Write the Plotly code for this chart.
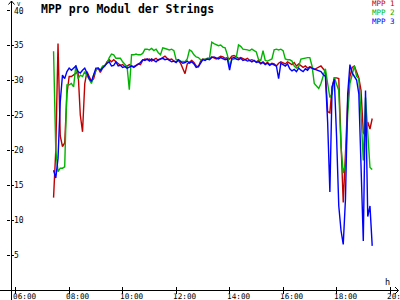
import plotly.graph_objects as go

# ---- data (5-minute samples from 07:25 to 19:20) ----
start_minute = 7 * 60 + 25
n_points = 144
times = [f"{(start_minute + 5 * i) // 60:02d}:{(start_minute + 5 * i) % 60:02d}" for i in range(n_points)]

mpp1 = [
    13.2, 20.0, 35.2, 22.0, 20.5, 21.0, 28.0, 30.5, 30.5, 30.7, 30.9, 31.2, 25.0, 22.6, 29.5, 31.2,
    30.5, 29.8, 30.2, 31.4, 31.7, 31.1, 31.7, 32.0, 32.6, 32.9, 32.6, 32.9, 32.6,
    32.3, 32.1, 32.2, 31.9, 32.0, 32.2, 32.0, 31.9, 32.1, 32.3, 32.2, 32.8, 33.0, 32.9, 33.0, 32.7,
    32.9, 33.1, 32.8, 33.0, 33.2, 33.4, 33.1, 32.9, 33.0, 32.7, 32.6, 32.8, 32.4, 31.7, 30.9, 32.3,
    32.6, 32.8, 32.5, 32.0, 31.9, 32.7, 33.0, 32.9, 33.1, 33.0, 33.3, 33.2, 33.0, 33.2, 33.4, 33.3,
    33.1, 33.2, 33.0, 33.4, 33.5, 33.3, 33.1, 33.2, 33.0, 32.9, 33.1, 32.8, 32.9, 32.7, 32.6, 32.8,
    32.4, 32.6, 32.3, 32.5, 32.2, 32.4, 32.3, 32.0, 32.4, 32.6, 32.5, 32.3, 32.6, 32.4, 32.2, 32.5,
    32.0, 32.3, 32.0, 31.8, 32.0, 31.7, 31.9,
    31.8, 31.5, 31.7, 31.8, 32.0, 31.6, 31.2, 25.5, 25.3, 29.0, 30.3, 30.3, 30.2, 21.0, 12.5, 19.5,
    27.0, 30.5, 31.8, 32.0, 31.0, 30.3, 28.5, 22.5, 22.0, 24.0, 23.0, 24.5,
]

mpp2 = [
    34.1, 20.0, 16.9, 17.4, 17.4, 17.6, 29.3, 29.3, 29.5, 29.0, 32.1, 30.2, 30.7, 30.5, 31.2, 30.7,
    30.2, 29.5, 30.7, 31.4, 31.7, 31.4, 32.0, 32.1, 32.4, 33.2, 33.7, 33.6, 33.1,
    33.1, 33.1, 32.6, 32.3, 31.9, 28.6, 33.6, 33.6, 33.7, 33.6, 33.6, 33.8, 34.4, 34.4, 34.3, 34.5,
    34.2, 34.4, 33.9, 33.6, 34.6, 34.5, 34.4, 34.3, 34.4, 34.2, 32.9, 32.9, 32.7, 32.6, 32.6, 33.0,
    34.3, 34.1, 33.6, 33.3, 33.2, 32.9, 32.9, 33.0, 33.0, 33.2, 35.4, 35.2, 35.0, 34.9, 35.0, 34.7,
    34.6, 33.6, 31.9, 32.9, 33.0, 33.2, 35.0, 34.8, 34.4, 34.4, 34.3, 34.2, 34.4, 34.2, 34.0, 32.9,
    32.8, 34.2, 32.8, 32.7, 32.8, 33.0, 34.3, 34.4, 34.3, 34.4, 34.2, 33.0, 32.9, 32.9, 32.7, 32.0,
    31.7, 31.9, 33.0, 33.1, 33.1, 33.2, 33.2,
    32.0, 29.5, 29.2, 28.8, 29.5, 30.6, 31.6, 29.5, 27.5, 28.0, 30.4, 29.4, 28.5, 20.5, 16.7, 18.0,
    25.0, 29.5, 31.0, 32.0, 30.5, 30.2, 25.0, 18.5, 27.5, 22.0, 17.5, 17.2,
]

mpp3 = [
    17.1, 16.0, 18.8, 26.9, 30.7, 30.2, 31.2, 31.7, 31.4, 31.7, 32.0, 31.2, 31.0, 31.4, 31.7, 31.0,
    30.2, 29.8, 30.7, 31.7, 31.7, 31.4, 31.7, 32.1, 32.4, 32.6, 32.0, 32.1, 32.6,
    32.0, 32.1, 31.8, 31.9, 31.7, 31.9, 32.0, 31.8, 32.0, 32.2, 32.5, 32.9, 32.8, 33.0, 32.7, 33.0,
    32.8, 32.6, 32.9, 33.0, 33.1, 32.9, 33.0, 32.8, 32.6, 32.7, 32.5, 32.9, 32.6, 32.4, 32.5, 32.7,
    32.4, 32.6, 32.3, 31.8, 31.9, 32.5, 32.9, 32.8, 33.0, 32.9, 33.2, 33.3, 33.1, 33.0, 33.2, 33.1,
    32.9, 33.0, 31.4, 33.1, 33.2, 33.0, 32.9, 33.1, 32.8, 32.9, 32.7, 32.8, 32.6, 32.8, 32.5, 32.6,
    32.3, 32.5, 32.2, 32.4, 32.1, 32.3, 32.2, 32.0, 30.2, 32.4, 32.2, 32.0, 32.3, 31.6, 31.3, 31.5,
    31.2, 31.7, 31.4, 31.2, 31.6, 31.4, 31.8,
    31.7, 31.5, 31.5, 31.4, 31.2, 30.8, 30.5, 24.0, 14.0, 29.0, 30.1, 22.0, 12.0, 8.5, 6.5, 13.0,
    28.0, 32.2, 31.0, 30.5, 30.0, 28.0, 16.0, 7.0, 28.5, 10.5, 12.0, 6.3,
]

series_names = ["MPP 1", "MPP 2", "MPP 3"]
series_colors = ["#c00000", "#00b400", "#0000ff"]

x_tick_hours = [6, 8, 10, 12, 14, 16, 18, 20]
x_tick_labels = ["06:00", "08:00", "10:00", "12:00", "14:00", "16:00", "18:00", "20:00"]
y_ticks = [5, 10, 15, 20, 25, 30, 35, 40]

title_text = "MPP pro Modul der Strings"

# ---- figure ----
hours = [int(t[:2]) + int(t[3:]) / 60 for t in times]
W, H = 400, 300
FONT = "DejaVu Sans Mono"

fig = go.Figure()
for name, vals, col in zip(series_names, [mpp1, mpp2, mpp3], series_colors):
    fig.add_trace(go.Scatter(x=hours, y=vals, mode="lines", name=name,
                             line=dict(color=col, width=1.4), showlegend=False))


def px(x):
    return x / W


def py(y):
    return 1 - y / H


common_x = dict(range=[5.825, 20.298], domain=[px(11), px(398)], showgrid=False, zeroline=False,
                tickvals=x_tick_hours, tickcolor="black", tickwidth=1, ticklen=3, fixedrange=True,
                showticklabels=False)
common_y = dict(range=[0, 40], domain=[py(290), py(10)], showgrid=False, zeroline=False,
                tickvals=y_ticks, tickcolor="black", tickwidth=1, ticklen=3, fixedrange=True,
                showticklabels=False)

fig.update_layout(
    width=W, height=H, margin=dict(l=0, r=0, t=0, b=0),
    paper_bgcolor="white", plot_bgcolor="white",
    xaxis=dict(**common_x, ticks="outside"),
    xaxis2=dict(**common_x, ticks="inside", overlaying="x", anchor="y"),
    yaxis=dict(**common_y, ticks="outside"),
    yaxis2=dict(**common_y, ticks="inside", overlaying="y", anchor="x"),
)
# dummy trace to activate secondary axes
fig.add_trace(go.Scatter(x=[None], y=[None], xaxis="x2", yaxis="y2", showlegend=False, hoverinfo="skip"))

shapes = []
# y axis line & arrow
shapes.append(dict(type="line", xref="paper", yref="paper", x0=px(11.5), x1=px(11.5), y0=0, y1=py(1),
                   line=dict(color="black", width=1)))
shapes.append(dict(type="path", xref="paper", yref="paper",
                   path=f"M {px(8.5)},{py(4.5)} L {px(11.5)},{py(1)} L {px(14.5)},{py(4.5)}",
                   line=dict(color="black", width=1)))
# x axis line & arrow
shapes.append(dict(type="line", xref="paper", yref="paper", x0=0, x1=px(398.5), y0=py(290.5), y1=py(290.5),
                   line=dict(color="black", width=1)))
shapes.append(dict(type="path", xref="paper", yref="paper",
                   path=f"M {px(395)},{py(287)} L {px(398.5)},{py(290.5)} L {px(395)},{py(294)}",
                   line=dict(color="black", width=1)))
fig.update_layout(shapes=shapes)

ann = []
ann.append(dict(text=f"<b>{title_text}</b>", xref="paper", yref="paper", x=px(39), y=py(0),
                xanchor="left", yanchor="top", showarrow=False,
                font=dict(family=FONT, size=11.5, color="black")))
for i, (name, col) in enumerate(zip(series_names, series_colors)):
    ann.append(dict(text=name, xref="paper", yref="paper", x=px(397), y=py(4 + 8.5 * i),
                    xanchor="right", yanchor="middle", showarrow=False,
                    font=dict(family=FONT, size=7.5, color=col)))
ann.append(dict(text="V", xref="paper", yref="paper", x=px(15.5), y=py(0), xanchor="left", yanchor="top",
                showarrow=False, font=dict(family=FONT, size=5.5, color="black"), borderpad=0))
ann.append(dict(text="h", xref="paper", yref="paper", x=px(387), y=py(281.5), xanchor="center",
                yanchor="middle", showarrow=False, font=dict(family=FONT, size=8.5, color="black")))
# x tick labels (start just left of the tick)
for hv, lab in zip(x_tick_hours, x_tick_labels):
    ann.append(dict(text=lab, xref="x", yref="paper", x=hv, y=py(296), xanchor="left", yanchor="middle",
                    xshift=-5, showarrow=False, font=dict(family=FONT, size=7.7, color="black")))
# y tick labels (right of the axis)
for v in y_ticks:
    ann.append(dict(text=str(v), xref="paper", yref="y", x=px(13), y=v, xanchor="left", yanchor="middle",
                    yshift=-1.8 if v == 40 else 0, borderpad=0,
                    showarrow=False, font=dict(family=FONT, size=8, color="black")))
fig.update_layout(annotations=ann)

fig.write_html("out.html")
